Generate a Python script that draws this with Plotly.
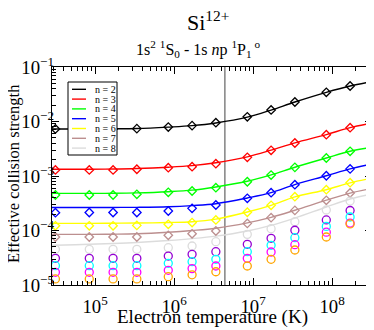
import plotly.graph_objects as go

# temperatures (K) of the computed points and of the fitted curves
temps = [3.15e4, 8.45e4, 1.69e5, 3.38e5, 8.45e5, 1.69e6, 3.38e6, 8.45e6, 1.69e7, 3.38e7, 8.45e7, 1.69e8]
line_temps = [2.85e4, 3.15e4, 8.45e4, 1.69e5, 3.38e5, 8.45e5, 1.69e6, 3.38e6, 8.45e6, 1.69e7, 3.38e7, 8.45e7, 1.69e8, 3.2e8]

# effective collision strengths (points)
n2 = [7.3e-3, 7.3e-3, 7.3e-3, 7.4e-3, 7.9e-3, 8.4e-3, 9.5e-3, 1.22e-2, 1.63e-2, 2.28e-2, 3.43e-2, 4.48e-2]
n3 = [1.29e-3, 1.29e-3, 1.29e-3, 1.33e-3, 1.42e-3, 1.48e-3, 1.68e-3, 2.2e-3, 2.96e-3, 4.03e-3, 5.73e-3, 7.69e-3]
n4 = [4.48e-4, 4.48e-4, 4.48e-4, 4.61e-4, 5.02e-4, 5.31e-4, 6.1e-4, 7.85e-4, 1.04e-3, 1.44e-3, 2.14e-3, 2.84e-3]
n5 = [2.12e-4, 2.14e-4, 2.14e-4, 2.14e-4, 2.28e-4, 2.55e-4, 2.94e-4, 3.9e-4, 4.94e-4, 6.92e-4, 1.01e-3, 1.35e-3]
n6 = [1.22e-4, 1.22e-4, 1.22e-4, 1.24e-4, 1.30e-4, 1.40e-4, 1.56e-4, 2.16e-4, 2.9e-4, 4.17e-4, 5.61e-4, 7.53e-4]
n7 = [7.6e-5, 7.6e-5, 7.6e-5, 7.6e-5, 8.16e-5, 8.7e-5, 9.8e-5, 1.35e-4, 1.72e-4, 2.34e-4, 3.58e-4, 4.88e-4]
n8 = [4.52e-5, 4.52e-5, 4.52e-5, 4.52e-5, 4.83e-5, 5.2e-5, 6.23e-5, 8.5e-5, 1.08e-4, 1.45e-4, 2.38e-4, 3.47e-4]
n9 = [3.09e-5, 3.09e-5, 3.09e-5, 3.09e-5, 3.4e-5, 3.66e-5, 4.08e-5, 5.58e-5, 7.19e-5, 1.01e-4, 1.56e-4, 2.33e-4]
n10 = [2.26e-5, 2.26e-5, 2.26e-5, 2.26e-5, 2.5e-5, 2.68e-5, 2.96e-5, 4.08e-5, 5.35e-5, 7.38e-5, 1.19e-4, 1.77e-4]
n11 = [1.71e-5, 1.71e-5, 1.71e-5, 1.71e-5, 1.86e-5, 2.0e-5, 2.23e-5, 3.09e-5, 4.03e-5, 5.49e-5, 9.3e-5, 1.37e-4]
n12 = [1.29e-5, 1.29e-5, 1.29e-5, 1.29e-5, 1.42e-5, 1.54e-5, 1.75e-5, 2.23e-5, 2.96e-5, 4.39e-5, 7.6e-5, 1.32e-4]

# fitted curves
fit2 = [7.3e-3, 7.3e-3, 7.3e-3, 7.35e-3, 7.45e-3, 7.9e-3, 8.4e-3, 9.4e-3, 1.2e-2, 1.62e-2, 2.28e-2, 3.43e-2, 4.48e-2, 5.4e-2]
fit3 = [1.33e-3, 1.33e-3, 1.33e-3, 1.34e-3, 1.37e-3, 1.45e-3, 1.55e-3, 1.75e-3, 2.25e-3, 2.98e-3, 4.05e-3, 5.75e-3, 7.7e-3, 9.3e-3]
fit4 = [4.8e-4, 4.8e-4, 4.8e-4, 4.82e-4, 4.9e-4, 5.15e-4, 5.5e-4, 6.3e-4, 8.0e-4, 1.05e-3, 1.45e-3, 2.14e-3, 2.84e-3, 3.35e-3]
fit5 = [2.64e-4, 2.64e-4, 2.64e-4, 2.65e-4, 2.66e-4, 2.72e-4, 2.86e-4, 3.1e-4, 3.95e-4, 4.95e-4, 6.95e-4, 1.01e-3, 1.35e-3, 1.66e-3]
fit6 = [1.35e-4, 1.35e-4, 1.35e-4, 1.36e-4, 1.37e-4, 1.40e-4, 1.45e-4, 1.62e-4, 2.18e-4, 2.9e-4, 4.15e-4, 5.6e-4, 7.5e-4, 9.1e-4]
fit7 = [8.5e-5, 8.5e-5, 8.5e-5, 8.55e-5, 8.7e-5, 9.3e-5, 1.0e-4, 1.1e-4, 1.38e-4, 1.74e-4, 2.35e-4, 3.6e-4, 4.85e-4, 5.9e-4]
fit8 = [5.37e-5, 5.37e-5, 5.58e-5, 5.77e-5, 6.03e-5, 6.55e-5, 7.1e-5, 7.9e-5, 9.8e-5, 1.24e-4, 1.69e-4, 2.7e-4, 3.78e-4, 4.67e-4]

labels = ["n = 2", "n = 3", "n = 4", "n = 5", "n = 6", "n = 7", "n = 8"]
vline_temp = 4.4e6

# xmgrace palette
colors = ["#000000", "#ff0000", "#00ff00", "#0000ff", "#ffff00", "#bc8f8f", "#dcdcdc"]
circle_colors = ["#9400d3", "#00ffff", "#ff00ff", "#ffa500"]

points = [n2, n3, n4, n5, n6, n7, n8]
fits = [fit2, fit3, fit4, fit5, fit6, fit7, fit8]
circles = [n9, n10, n11, n12]

FONT = "Liberation Serif"

fig = go.Figure()

fig.add_trace(go.Scatter(x=[vline_temp, vline_temp], y=[1e-5, 1e-1], mode="lines",
                         line=dict(color="#444444", width=1), showlegend=False, hoverinfo="skip"))

for i in range(len(fits)):
    fig.add_trace(go.Scatter(x=line_temps, y=fits[i], mode="lines", line_shape="spline",
                             line=dict(color=colors[i], width=1.4), showlegend=False))

for i in range(len(points)):
    sym = "circle-open" if i == 6 else "diamond-open"
    size = 8 if i == 6 else 6.5
    fig.add_trace(go.Scatter(x=temps, y=points[i], mode="markers",
                             marker=dict(symbol=sym, size=size, color=colors[i], line=dict(width=1.3)),
                             showlegend=False))

for i in range(len(circles)):
    fig.add_trace(go.Scatter(x=temps, y=circles[i], mode="markers",
                             marker=dict(symbol="circle-open", size=8, color=circle_colors[i], line=dict(width=1.3)),
                             showlegend=False))

# page body has an 8px margin, so the figure is made 8px smaller and everything
# below is given in screen pixels
OFF = 8
W, H = 374 - OFF, 330 - OFF
L, R, T, B = 52, 372, 67, 285   # plot area on screen
def px(x):
    return (x - L) / (R - L)
def py(y):
    return 1 - (y - T) / (B - T)

shapes = [dict(type="rect", xref="paper", yref="paper", x0=px(68), x1=px(117), y0=py(82), y1=py(155),
               line=dict(color="black", width=1), fillcolor="white", layer="above")]
annotations = []
for i, lab in enumerate(labels):
    yy = 89.3 + i * 9.8
    shapes.append(dict(type="line", xref="paper", yref="paper", x0=px(72), x1=px(86), y0=py(yy), y1=py(yy),
                       line=dict(color=colors[i], width=1.4), layer="above"))
    annotations.append(dict(xref="paper", yref="paper", x=px(93), y=py(yy), text=lab, showarrow=False,
                            xanchor="left", yanchor="middle", font=dict(family=FONT, size=10, color="black")))

annotations.append(dict(xref="paper", yref="paper", x=px(208), y=py(37), text="Si<sup>12+</sup>",
                        showarrow=False, xanchor="center", yanchor="bottom",
                        font=dict(family=FONT, size=22, color="black")))
annotations.append(dict(xref="paper", yref="paper", x=px(198), y=py(62),
                        text="1s<sup>2</sup> <sup>1</sup>S<sub>0</sub> - 1s <i>n</i>p <sup>1</sup>P<sub>1</sub><sup> o</sup>",
                        showarrow=False, xanchor="center", yanchor="bottom",
                        font=dict(family=FONT, size=16, color="black")))

# axis titles placed by hand
annotations.append(dict(xref="paper", yref="paper", x=px(212), y=py(317), text="Electron temperature (K)",
                        showarrow=False, xanchor="center", yanchor="middle",
                        font=dict(family=FONT, size=19, color="black")))
annotations.append(dict(xref="paper", yref="paper", x=px(13), y=py(174), text="Effective collision strength",
                        showarrow=False, xanchor="center", yanchor="middle", textangle=-90,
                        font=dict(family=FONT, size=16.5, color="black")))

axis_common = dict(type="log", dtick=1, exponentformat="power", showgrid=False, zeroline=False,
                   showline=True, linecolor="black", linewidth=1, mirror="allticks",
                   ticks="inside", ticklen=7, tickcolor="black", automargin=False,
                   minor=dict(ticks="inside", ticklen=4, tickcolor="black", showgrid=False),
                   tickfont=dict(family=FONT, size=15, color="black"))

fig.update_layout(
    width=W, height=H,
    margin=dict(l=L - OFF, r=374 - R, t=T - OFF, b=330 - B),
    paper_bgcolor="white", plot_bgcolor="white",
    font=dict(family=FONT, color="black"),
    shapes=shapes, annotations=annotations,
    xaxis=dict(axis_common, range=[4.455, 8.505], ticklabelstandoff=5),
    yaxis=dict(axis_common, range=[-5, -1], ticklabelstandoff=-6),
)

fig.write_html("out.html")
